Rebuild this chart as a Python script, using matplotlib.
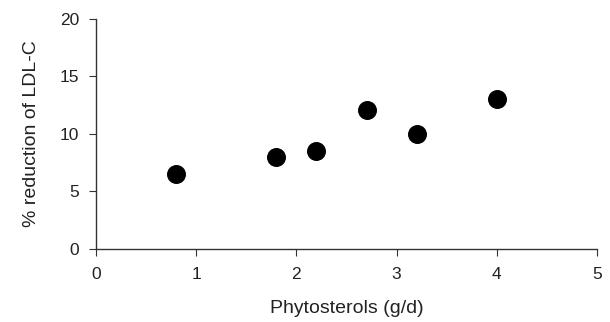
import matplotlib
matplotlib.use("Agg")
import matplotlib.pyplot as plt

phytosterols = [0.8, 1.8, 2.2, 2.7, 3.2, 4.0]
ldl_reduction = [6.5, 8.0, 8.5, 12.1, 10.0, 13.0]
x_ticks = [0, 1, 2, 3, 4, 5]
y_ticks = [0, 5, 10, 15, 20]

plt.rcParams['font.family'] = ['Liberation Sans', 'DejaVu Sans']

fig = plt.figure(figsize=(6.1, 3.22), dpi=100)
ax = fig.add_axes([0.157, 0.227, 0.822, 0.714])
ax.scatter(phytosterols, ldl_reduction, s=160, color='black', zorder=3)
ax.set_xlim(0, 5)
ax.set_ylim(0, 20)
ax.set_xticks(x_ticks)
ax.set_yticks(y_ticks)
for s in ['top', 'right']:
    ax.spines[s].set_visible(False)
for s in ['left', 'bottom']:
    ax.spines[s].set_color('#333333')
    ax.spines[s].set_linewidth(1.0)
ax.tick_params(direction='out', length=5, color='#333333', labelsize=12.5, labelcolor='#222222')
ax.tick_params(axis='x', pad=8)
ax.tick_params(axis='y', pad=7)
ax.set_xlabel('Phytosterols (g/d)', fontsize=14, color='#222222', labelpad=13)
ax.set_ylabel('% reduction of LDL-C', fontsize=14, color='#222222', labelpad=14)
fig.savefig('out.png', dpi=100)
